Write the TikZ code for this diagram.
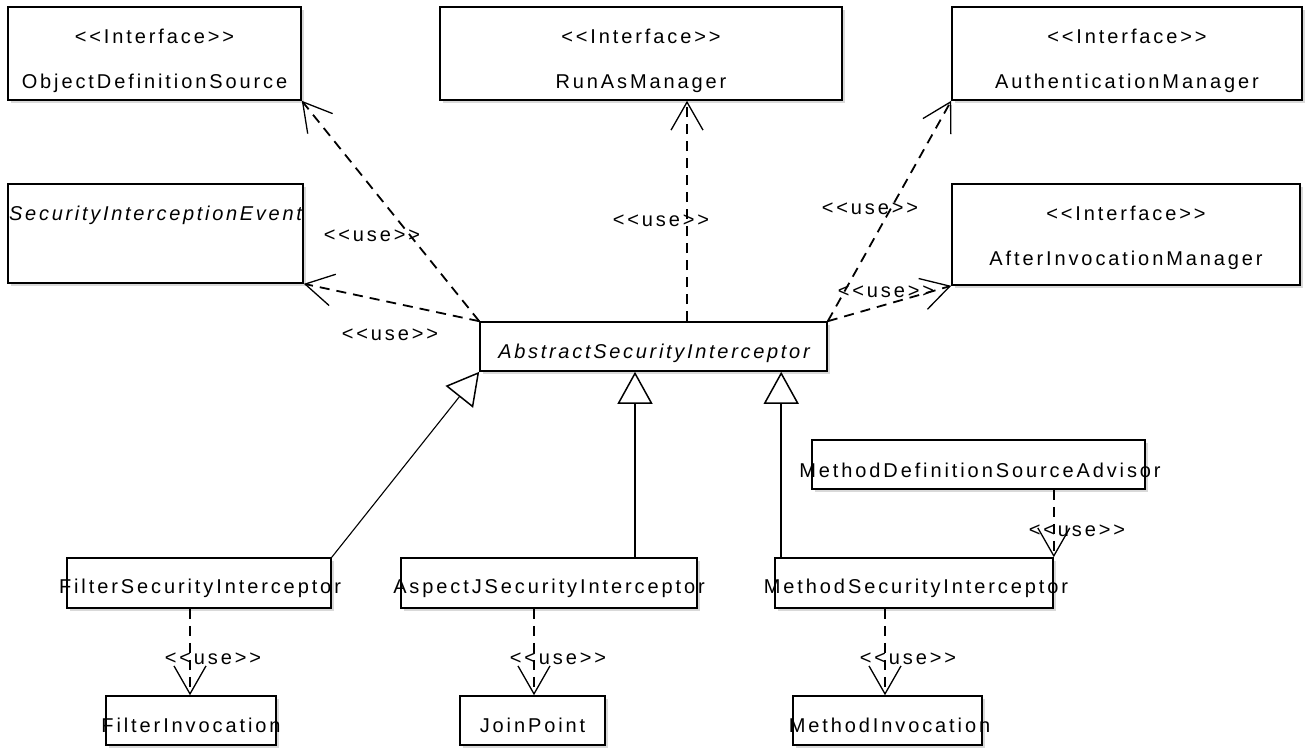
\documentclass[tikz,border=0pt]{standalone}
\usepackage{fontspec}
\setmainfont{Liberation Sans}[LetterSpace=14.5, Ligatures=TeXOff, ItalicFeatures={LetterSpace=13.5}]
\usetikzlibrary{arrows.meta,shadows,calc}
\begin{document}
\begin{tikzpicture}[x=1pt,y=-1pt,
  box/.style={draw=black, line width=1.6pt, fill=white, inner sep=0pt,
    drop shadow={shadow xshift=2.5pt, shadow yshift=-2.5pt, opacity=0.3, fill=gray}},
  txt/.style={font=\fontsize{20}{24}\selectfont, inner sep=0pt, anchor=base},
  itxt/.style={txt, font=\fontsize{20}{24}\selectfont\itshape},
  lbl/.style={font=\fontsize{20}{24}\selectfont, inner sep=0pt, anchor=base},
  dep/.style={line width=1.8pt, dash pattern=on 10pt off 7pt,
    -{Straight Barb[length=28pt, width=32pt, line width=1.3pt]}},
  gen/.style={line width=1.5pt,
    -{Triangle[open, length=32pt, width=35pt, line width=1.5pt, fill=white]}}
]
\useasboundingbox (0,0) rectangle (1306,753);

% boxes
\node[box, minimum width=293pt, minimum height=93pt] (ods) at (154.5,53.5) {};
\node[box, minimum width=402pt, minimum height=93pt] (ram) at (641,53.5) {};
\node[box, minimum width=350pt, minimum height=93pt] (aum) at (1127,53.5) {};
\node[box, minimum width=295pt, minimum height=99pt] (sie) at (155.5,233.5) {};
\node[box, minimum width=348pt, minimum height=101pt] (aim) at (1126,234.5) {};
\node[box, minimum width=347pt, minimum height=49pt] (asi) at (653.5,346.5) {};
\node[box, minimum width=333pt, minimum height=49pt] (mdsa) at (978.5,464.5) {};
\node[box, minimum width=264pt, minimum height=50pt] (fsi) at (199,583) {};
\node[box, minimum width=296pt, minimum height=50pt] (ajs) at (549,583) {};
\node[box, minimum width=278pt, minimum height=50pt] (msi) at (914,583) {};
\node[box, minimum width=170pt, minimum height=49pt] (fi) at (191,720.5) {};
\node[box, minimum width=145pt, minimum height=49pt] (jp) at (532.5,720.5) {};
\node[box, minimum width=189pt, minimum height=49pt] (mi) at (887.5,720.5) {};

% texts
\node[txt] (t-ods1) at (154.5,43) {<<Interface>>};
\node[txt] (t-ods2) at (154.5,88) {ObjectDefinitionSource};
\node[txt] (t-ram1) at (641,43) {<<Interface>>};
\node[txt] (t-ram2) at (641,88) {RunAsManager};
\node[txt] (t-aum1) at (1127,43) {<<Interface>>};
\node[txt] (t-aum2) at (1127,88) {AuthenticationManager};
\node[itxt, anchor=base west] (t-sie) at (9,220) {SecurityInterceptionEvent};
\node[txt] (t-aim1) at (1126,220) {<<Interface>>};
\node[txt] (t-aim2) at (1126,265) {AfterInvocationManager};
\node[itxt] (t-asi) at (654,358) {AbstractSecurityInterceptor};
\node[txt] (t-mdsa) at (980,477) {MethodDefinitionSourceAdvisor};
\node[txt] (t-fsi) at (200,593) {FilterSecurityInterceptor};
\node[txt] (t-ajs) at (549,593) {AspectJSecurityInterceptor};
\node[txt] (t-msi) at (916,593) {MethodSecurityInterceptor};
\node[txt] (t-fi) at (191,732) {FilterInvocation};
\node[txt] (t-jp) at (532.5,732) {JoinPoint};
\node[txt] (t-mi) at (889.5,732) {MethodInvocation};

% dependencies
\draw[dep] (asi.north west) -- (ods.south east);
\draw[dep] (asi.north west) -- (sie.south east);
\draw[dep] ([xshift=33.5pt]asi.north) -- ([xshift=33.5pt]asi.north |- ram.south);
\draw[dep] (asi.north east) -- (aum.south west);
\draw[dep] (asi.north east) -- (aim.south west);
\draw[dep] (mdsa.south -| msi.north east) -- (msi.north east);
\draw[dep] ([xshift=-1pt]fi.north |- fsi.south) -- ([xshift=-1pt]fi.north);
\draw[dep] ([xshift=1.5pt]jp.north |- ajs.south) -- ([xshift=1.5pt]jp.north);
\draw[dep] ([xshift=-2.5pt]mi.north |- msi.south) -- ([xshift=-2.5pt]mi.north);

% generalizations
\draw[gen, line width=1.1pt] (fsi.north east) -- (asi.south west);
\draw[gen] ([xshift=86pt]ajs.north) -- ([xshift=86pt]ajs.north |- asi.south);
\draw[gen] ([xshift=7pt]msi.north west) -- ([xshift=7pt]msi.north west |- asi.south);

% labels
\node[lbl] (l1) at (372,241) {<<use>>};
\node[lbl] (l2) at (390,340) {<<use>>};
\node[lbl] (l3) at (661,226) {<<use>>};
\node[lbl] (l4) at (870,214) {<<use>>};
\node[lbl] (l5) at (886,297) {<<use>>};
\node[lbl] (l6) at (1077,536) {<<use>>};
\node[lbl] (l7) at (213,664) {<<use>>};
\node[lbl] (l8) at (558,664) {<<use>>};
\node[lbl] (l9) at (908,664) {<<use>>};
\end{tikzpicture}
\end{document}
